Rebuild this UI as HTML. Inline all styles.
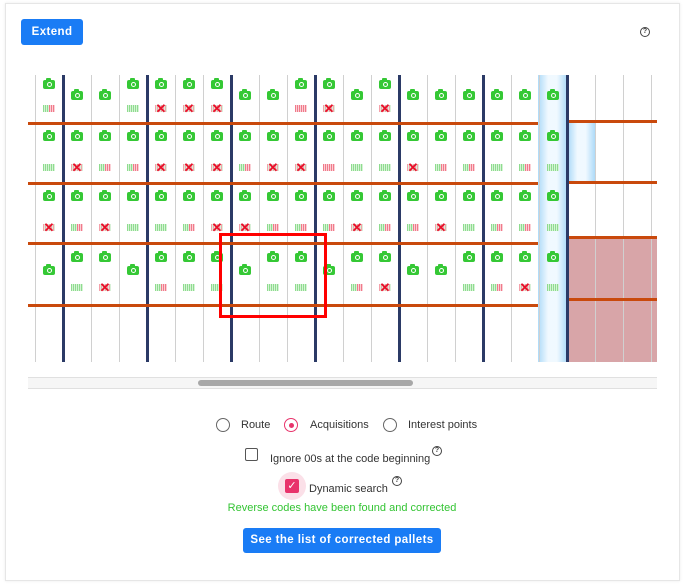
<!DOCTYPE html>
<html><head><meta charset="utf-8"><style>
body{margin:0;width:688px;height:585px;background:#fff;font-family:"Liberation Sans",sans-serif;position:relative;overflow:hidden}
.card{position:absolute;left:5px;top:3px;width:673px;height:576px;border:1px solid #e6e6e6;box-shadow:0 0 3px rgba(0,0,0,.08);background:#fff}
.abs{position:absolute}
.btn{background:#1a7cf5;color:#fff;font-weight:bold;font-size:11.5px;border-radius:3px;text-align:center;letter-spacing:.4px}
.cam{position:absolute;width:12px;height:9px;background:#35c835;border-radius:2px}
.cam:before{content:"";position:absolute;left:3px;top:-2px;width:5px;height:3px;background:#35c835;border-radius:1px}
.cam:after{content:"";position:absolute;left:3.5px;top:2px;width:3px;height:3px;border:1px solid #fff;border-radius:50%}
.bar{position:absolute;width:12px;height:7px}
.g{background:repeating-linear-gradient(90deg,#8fdc8f 0 1px,#d6f3d6 1px 2px)}
.m{background:repeating-linear-gradient(90deg,#8fdc8f 0 1px,#d6f3d6 1px 2px);}
.m:after{content:"";position:absolute;left:6px;top:0;width:6px;height:7px;background:repeating-linear-gradient(90deg,#f07a8a 0 1px,#fbd0d6 1px 2px)}
.r{background:repeating-linear-gradient(90deg,#f07a8a 0 1px,#fbd0d6 1px 2px)}
.x{background:repeating-linear-gradient(90deg,#f5a0aa 0 1px,#d8f0d8 1px 2px);color:#e8102a;font-size:13px;line-height:7px;text-align:center;font-weight:bold}
.vt{position:absolute;width:1px;background:#d0d0d0;top:75px;height:287px}
.vk{position:absolute;width:3px;background:#2b3a66;top:75px;height:287px}
.ho{position:absolute;height:3px;background:#c9490c}
.rad{position:absolute;width:12px;height:12px;border:1.5px solid #666;border-radius:50%}
.lbl{position:absolute;font-size:11px;color:#333}
.q{position:absolute;width:8px;height:8px;border:1px solid #444;border-radius:50%;font-size:7px;line-height:8px;text-align:center;color:#444;font-weight:bold}
</style></head><body>
<div class="card"></div>
<div class="abs btn" style="left:21px;top:19px;width:62px;height:26px;line-height:26px">Extend</div>
<div class="q" style="left:640px;top:27px">?</div>
<div class="abs" style="left:538px;top:75px;width:29px;height:287px;background:linear-gradient(90deg,#9fd4f7,#eef8ff 35%,#eef8ff 65%,#9fd4f7);opacity:.85"></div>
<div class="abs" style="left:568px;top:123px;width:27px;height:59px;background:linear-gradient(90deg,#9fd4f7,#eef8ff 35%,#eef8ff 65%,#9fd4f7);opacity:.85"></div>
<div class="abs" style="left:567px;top:237px;width:90px;height:125px;background:#d8a5a8"></div>
<div id="grid"></div>
<div id="grid2"></div>
<div class="abs" style="left:219px;top:233px;width:102px;height:79px;border:3px solid #f00"></div>
<div class="abs" style="left:28px;top:377px;width:629px;height:10px;background:#f6f6f6;border-top:1px solid #e0e0e0;border-bottom:1px solid #e0e0e0"></div>
<div class="abs" style="left:198px;top:380px;width:215px;height:6px;background:#a8a8a8;border-radius:3px"></div>
<div class="rad" style="left:216px;top:418px"></div><div class="lbl" style="left:241px;top:419px">Route</div>
<div class="rad" style="left:284px;top:418px;border-color:#e8336b"></div><div class="abs" style="left:289px;top:423px;width:5px;height:5px;border-radius:50%;background:#e8336b"></div>
<div class="lbl" style="left:310px;top:419px">Acquisitions</div>
<div class="rad" style="left:383px;top:418px"></div><div class="lbl" style="left:408px;top:419px">Interest points</div>
<div class="abs" style="left:245px;top:448px;width:11px;height:11px;border:1.5px solid #555;border-radius:2px"></div>
<div class="lbl" style="left:270px;top:453px">Ignore 00s at the code beginning</div>
<div class="q" style="left:432px;top:446px">?</div>
<div class="abs" style="left:278px;top:472px;width:28px;height:28px;border-radius:50%;background:#fbe0e8"></div>
<div class="abs" style="left:285px;top:479px;width:14px;height:14px;border-radius:2px;background:#e8336b;color:#fff;font-size:11px;line-height:14px;text-align:center">✓</div>
<div class="lbl" style="left:309px;top:483px">Dynamic search</div>
<div class="q" style="left:392px;top:476px">?</div>
<div class="lbl" style="left:0;width:684px;text-align:center;top:502px;color:#33c433">Reverse codes have been found and corrected</div>
<div class="abs btn" style="left:243px;top:528px;width:198px;height:25px;line-height:25px">See the list of corrected pallets</div>
<script>
(function(){
var rows=["mccgxxxccrxcxcccccc","gxmmxxxmxxrggxmmgmg","xmxggmxxmmmxmmxgmmg","cgxcmggcggcmxccgmxg"];
var tops=[75,123,183,243],off=[[5,30,16],[9,41,23],[9,41,23],[10,41,23]];
var h='';
for(var i=0;i<=22;i++){var x=35+i*28;if(i%3==1&&i<=19)h+='<div class="vk" style="left:'+(x-1)+'px"></div>';else if(i!=19)h+='<div class="vt" style="left:'+x+'px"></div>';}
[123,183,243,305].forEach(function(y){h+='<div class="ho" style="left:28px;width:510px;top:'+(y-1)+'px"></div>'});
for(var r=0;r<4;r++){var ty=tops[r],o=off[r];for(var c=0;c<19;c++){var t=rows[r][c],cx=43+c*28;
if(t=='c')h+='<div class="cam" style="left:'+cx+'px;top:'+(ty+o[2])+'px"></div>';
else{h+='<div class="cam" style="left:'+cx+'px;top:'+(ty+o[0])+'px"></div>';
h+='<div class="bar '+t+'" style="left:'+cx+'px;top:'+(ty+o[1])+'px">'+(t=='x'?'✕':'')+'</div>';}}}
document.getElementById('grid').innerHTML=h;
var h2='';[121,182,237,299].forEach(function(y){h2+='<div class="ho" style="left:567px;width:90px;top:'+(y-1)+'px"></div>'});
h2+='<div class="vk" style="left:566px"></div>';
document.getElementById('grid2').innerHTML=h2;
})();
</script>
</body></html>
